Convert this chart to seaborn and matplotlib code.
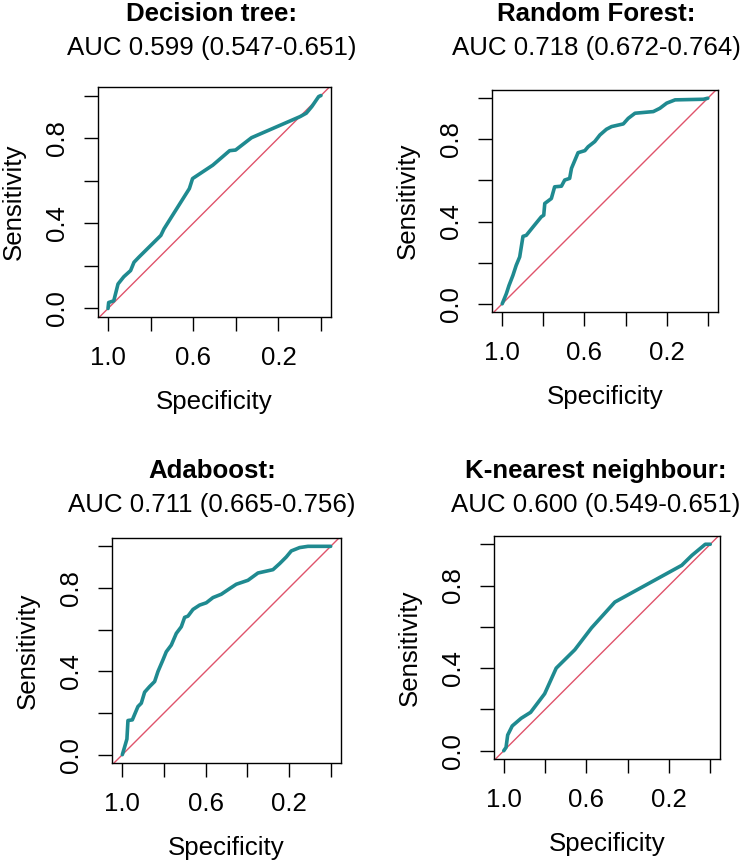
import matplotlib
matplotlib.use("Agg")
import matplotlib.pyplot as plt
import seaborn as sns
import pandas as pd

# ---------------- data ----------------
titles = ["Decision tree:", "Random Forest:", "Adaboost:", "K-nearest neighbour:"]
subtitles = ["AUC 0.599 (0.547-0.651)", "AUC 0.718 (0.672-0.764)",
             "AUC 0.711 (0.665-0.756)", "AUC 0.600 (0.549-0.651)"]

dt_spec = [1.0, 0.997, 0.973, 0.953, 0.926, 0.894, 0.878, 0.855, 0.752, 0.737,
           0.618, 0.603, 0.508, 0.429, 0.401, 0.326, 0.098, 0.069, 0.043, 0.011, 0.0]
dt_sens = [0.0, 0.028, 0.036, 0.115, 0.149, 0.178, 0.217, 0.241, 0.343, 0.374,
           0.563, 0.610, 0.673, 0.741, 0.744, 0.802, 0.901, 0.917, 0.948, 0.995, 1.0]

rf_spec = [1.0, 0.980, 0.967, 0.948, 0.932, 0.915, 0.899, 0.883, 0.850, 0.810,
           0.798, 0.793, 0.761, 0.745, 0.712, 0.696, 0.672, 0.663, 0.631, 0.598,
           0.582, 0.550, 0.525, 0.493, 0.468, 0.411, 0.387, 0.354, 0.265, 0.233,
           0.200, 0.159, 0.021, 0.0]
rf_sens = [0.0, 0.049, 0.089, 0.138, 0.187, 0.228, 0.328, 0.333, 0.374, 0.423,
           0.431, 0.488, 0.512, 0.569, 0.572, 0.602, 0.610, 0.659, 0.735, 0.745,
           0.764, 0.789, 0.821, 0.849, 0.862, 0.875, 0.902, 0.927, 0.935, 0.951,
           0.976, 0.992, 0.995, 1.0]

ada_spec = [1.0, 0.989, 0.978, 0.973, 0.952, 0.925, 0.909, 0.893, 0.869, 0.845,
            0.829, 0.805, 0.789, 0.765, 0.741, 0.717, 0.701, 0.685, 0.661, 0.629,
            0.597, 0.565, 0.525, 0.485, 0.453, 0.397, 0.349, 0.277, 0.245, 0.213,
            0.189, 0.149, 0.109, 0.0]
ada_sens = [0.0, 0.037, 0.075, 0.164, 0.167, 0.231, 0.247, 0.300, 0.327, 0.351,
            0.399, 0.455, 0.494, 0.526, 0.582, 0.614, 0.659, 0.665, 0.697, 0.718,
            0.729, 0.754, 0.770, 0.797, 0.818, 0.837, 0.872, 0.888, 0.917, 0.949,
            0.978, 0.994, 1.0, 1.0]

knn_spec = [1.0, 0.989, 0.981, 0.959, 0.916, 0.870, 0.802, 0.746, 0.656, 0.575,
            0.462, 0.138, 0.089, 0.024, 0.0]
knn_sens = [0.0, 0.016, 0.076, 0.120, 0.157, 0.186, 0.276, 0.400, 0.489, 0.595,
            0.720, 0.898, 0.946, 1.0, 1.0]

curves = [(dt_spec, dt_sens), (rf_spec, rf_sens), (ada_spec, ada_sens), (knn_spec, knn_sens)]

tick_vals = [0.0, 0.2, 0.4, 0.6, 0.8, 1.0]
x_tick_labels = ["", "0.2", "", "0.6", "", "1.0"]
y_tick_labels = ["0.0", "", "0.4", "", "0.8", ""]

# ---------------- style ----------------
sns.set_style("white")
plt.rcParams["font.family"] = ["Liberation Sans", "DejaVu Sans"]
for k in ["text.color", "axes.labelcolor", "xtick.color", "ytick.color", "axes.edgecolor"]:
    plt.rcParams[k] = "black"

W, H = 741, 860
fig = plt.figure(figsize=(W / 100, H / 100), dpi=100)

# box geometry in pixels: left, right, top, bottom
boxes = [(98, 331, 87, 317), (492, 718, 90, 312), (112, 341, 538, 763), (494, 720, 536, 759)]
title_x = [212, 596, 212, 596]
title_y = [21, 21, 478, 478]
sub_y = [55, 55, 512, 512]

curve_col = "#1f8a90"
diag_col = "#DF536B"
FS = 18.6

for i, ((sp, se), (l, r, t, b)) in enumerate(zip(curves, boxes)):
    ax = fig.add_axes([l / W, 1 - b / H, (r - l) / W, (b - t) / H])
    df = pd.DataFrame({"Specificity": sp, "Sensitivity": se})
    ax.axline((1, 0), (0, 1), color=diag_col, lw=1.0, zorder=1)
    sns.lineplot(data=df, x="Specificity", y="Sensitivity", sort=False,
                 estimator=None, color=curve_col, lw=2.6, ax=ax, zorder=2)
    yr = 1.08
    xr = yr * (r - l) / (b - t)
    e = (xr - 1) / 2
    ax.set_xlim(1 + e, -e)
    ax.set_ylim(-0.04, 1.04)
    ax.set_xticks(tick_vals)
    ax.set_xticklabels(x_tick_labels)
    ax.set_yticks(tick_vals)
    ax.set_yticklabels(y_tick_labels, rotation=90, va="center")
    ax.tick_params(axis="both", direction="out", length=10, width=1.0,
                   color="black", labelcolor="black", labelsize=FS, pad=11,
                   bottom=True, left=True)
    for s in ax.spines.values():
        s.set_visible(True)
        s.set_color("black")
        s.set_linewidth(1.0)
    ax.set_xlabel("Specificity", fontsize=FS, labelpad=14.5, color="black")
    ax.set_ylabel("Sensitivity", fontsize=FS, labelpad=13.5, color="black")
    ax.grid(False)
    fig.text(title_x[i] / W, 1 - title_y[i] / H, titles[i], ha="center",
             va="baseline", fontsize=FS, fontweight="bold", color="black")
    fig.text(title_x[i] / W, 1 - sub_y[i] / H, subtitles[i], ha="center",
             va="baseline", fontsize=FS, color="black")

fig.savefig("out.png", dpi=100)
